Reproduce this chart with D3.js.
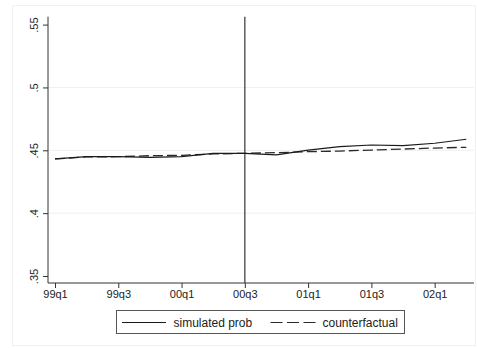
<!DOCTYPE html>
<html>
<head>
<meta charset="utf-8">
<script src="https://cdn.jsdelivr.net/npm/d3@7"></script>
<style>
  body { margin: 0; background: #fff; }
  svg text { font-family: "Liberation Sans", Arial, sans-serif; fill: #222; }
</style>
</head>
<body>
<div id="chart"></div>
<script>
// quarters, 99q1 .. 02q2
var quarters = ["99q1","99q2","99q3","99q4","00q1","00q2","00q3","00q4","01q1","01q2","01q3","01q4","02q1","02q2"];
var simulated = [0.4431,0.4449,0.4449,0.4444,0.4449,0.4476,0.4476,0.4463,0.4502,0.4529,0.4542,0.4537,0.4556,0.4588];
var counterfactual = [0.4431,0.4447,0.4449,0.4457,0.4460,0.4471,0.4476,0.4481,0.4489,0.4494,0.4502,0.4510,0.4518,0.4524];
var x_ticks = ["99q1","99q3","00q1","00q3","01q1","01q3","02q1"];
var y_ticks = [0.35, 0.4, 0.45, 0.5, 0.55];
var y_labels = [".35", ".4", ".45", ".5", ".55"];
var event_q = "00q3";

var width = 477, height = 348;

var svg = d3.select("#chart").append("svg")
  .attr("width", width)
  .attr("height", height);

// outer graph region
svg.append("rect")
  .attr("x", 12.5).attr("y", 5.5)
  .attr("width", 463).attr("height", 340)
  .attr("fill", "#fff")
  .attr("stroke", "#eef2f4");

var x = d3.scaleLinear()
  .domain([0, quarters.length - 1])
  .range([55, 466.3]);

var y = d3.scaleLinear()
  .domain([0.35, 0.55])
  .range([276, 24.6]);

var plot_left = 48, plot_right = 474, plot_top = 16.7, plot_bottom = 283;

// gridlines
svg.selectAll(".grid")
  .data([0.4, 0.45, 0.5])
  .enter().append("line")
  .attr("x1", plot_left).attr("x2", plot_right)
  .attr("y1", d => y(d)).attr("y2", d => y(d))
  .attr("stroke", "#eaf2f3")
  .attr("stroke-width", 1);

// y axis
var yAxis = d3.axisLeft(y)
  .tickValues(y_ticks)
  .tickSize(5)
  .tickFormat((d, i) => y_labels[i]);

var gy = svg.append("g")
  .attr("transform", "translate(" + plot_left + ",0)")
  .call(yAxis);
gy.select(".domain").remove();
gy.selectAll(".tick line").attr("stroke", "#333");
gy.selectAll(".tick text")
  .attr("x", 0).attr("y", 0)
  .attr("dy", null)
  .attr("text-anchor", "middle")
  .attr("transform", "translate(-10,0) rotate(-90)")
  .style("font-size", "11px");
svg.append("line")
  .attr("x1", plot_left).attr("x2", plot_left)
  .attr("y1", plot_top).attr("y2", plot_bottom)
  .attr("stroke", "#333");

// x axis
var xAxis = d3.axisBottom(x)
  .tickValues(x_ticks.map(q => quarters.indexOf(q)))
  .tickSize(5)
  .tickFormat(i => quarters[i]);

var gx = svg.append("g")
  .attr("transform", "translate(0," + plot_bottom + ")")
  .call(xAxis);
gx.select(".domain").remove();
gx.selectAll(".tick line").attr("stroke", "#333");
gx.selectAll(".tick text")
  .attr("y", 7)
  .style("font-size", "11px");
svg.append("line")
  .attr("x1", plot_left).attr("x2", plot_right)
  .attr("y1", plot_bottom).attr("y2", plot_bottom)
  .attr("stroke", "#333");

// vertical event line
svg.append("line")
  .attr("x1", x(quarters.indexOf(event_q))).attr("x2", x(quarters.indexOf(event_q)))
  .attr("y1", plot_top).attr("y2", plot_bottom)
  .attr("stroke", "#444")
  .attr("stroke-width", 1.3);

var line = d3.line()
  .x((d, i) => x(i))
  .y(d => y(d));

svg.append("path")
  .datum(counterfactual)
  .attr("d", line)
  .attr("fill", "none")
  .attr("stroke", "#2a2a2a")
  .attr("stroke-width", 1.3)
  .attr("stroke-dasharray", "10,4");

svg.append("path")
  .datum(simulated)
  .attr("d", line)
  .attr("fill", "none")
  .attr("stroke", "#1a1a1a")
  .attr("stroke-width", 1.2);

// legend
var lg = svg.append("g");
lg.append("rect")
  .attr("x", 116.5).attr("y", 310.5)
  .attr("width", 288).attr("height", 23)
  .attr("fill", "#fff")
  .attr("stroke", "#555");
lg.append("line")
  .attr("x1", 122).attr("x2", 166)
  .attr("y1", 322.5).attr("y2", 322.5)
  .attr("stroke", "#1a1a1a").attr("stroke-width", 1.2);
lg.append("text")
  .attr("x", 173.5).attr("y", 326.5)
  .style("font-size", "12px")
  .text("simulated prob");
lg.append("line")
  .attr("x1", 270.5).attr("x2", 315.5)
  .attr("y1", 322.5).attr("y2", 322.5)
  .attr("stroke", "#2a2a2a").attr("stroke-width", 1.2)
  .attr("stroke-dasharray", "12,4.5");
lg.append("text")
  .attr("x", 322.5).attr("y", 326.5)
  .style("font-size", "12px")
  .text("counterfactual");
</script>
</body>
</html>
